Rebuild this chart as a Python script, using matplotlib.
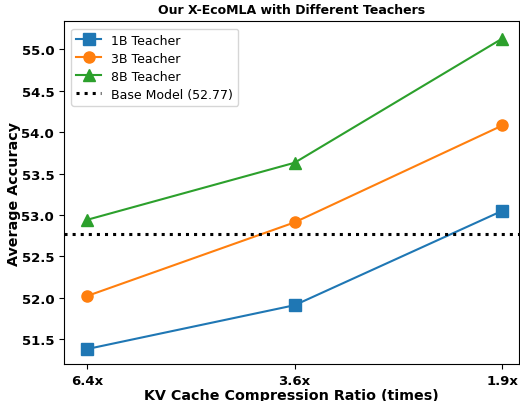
import matplotlib
matplotlib.use("Agg")
import matplotlib.pyplot as plt

ratios = ["6.4x", "3.6x", "1.9x"]
teacher_1b = [51.38, 51.91, 53.05]
teacher_3b = [52.02, 52.91, 54.08]
teacher_8b = [52.94, 53.63, 55.13]
base_model = 52.77

fig, ax = plt.subplots(figsize=(5.2, 4.02), dpi=100)
fig.subplots_adjust(left=0.123, right=0.998, top=0.945, bottom=0.092)

x = range(len(ratios))
ax.plot(x, teacher_1b, marker='s', markersize=8, color='#1f77b4', label='1B Teacher')
ax.plot(x, teacher_3b, marker='o', markersize=8, color='#ff7f0e', label='3B Teacher')
ax.plot(x, teacher_8b, marker='^', markersize=8, color='#2ca02c', label='8B Teacher')
ax.axhline(base_model, color='black', linestyle=':', linewidth=2.2,
           label=f'Base Model ({base_model})')

ax.set_xticks(list(x))
ax.set_xticklabels(ratios)
ax.set_xlim(-0.11, 2.08)
ax.set_ylim(51.2, 55.34)
ax.set_yticks([51.5, 52.0, 52.5, 53.0, 53.5, 54.0, 54.5, 55.0])

for lbl in ax.get_xticklabels() + ax.get_yticklabels():
    lbl.set_fontweight('bold')
    lbl.set_fontsize(9.5)

ax.set_xlabel('KV Cache Compression Ratio (times)', fontsize=10.3, fontweight='bold', labelpad=1)
ax.set_ylabel('Average Accuracy', fontsize=10.3, fontweight='bold', labelpad=0)
ax.set_title('Our X-EcoMLA with Different Teachers', fontsize=9, fontweight='bold')
ax.legend(loc='upper left', fontsize=9, borderaxespad=0.6, labelspacing=0.4)

fig.savefig('out.png', dpi=100)
